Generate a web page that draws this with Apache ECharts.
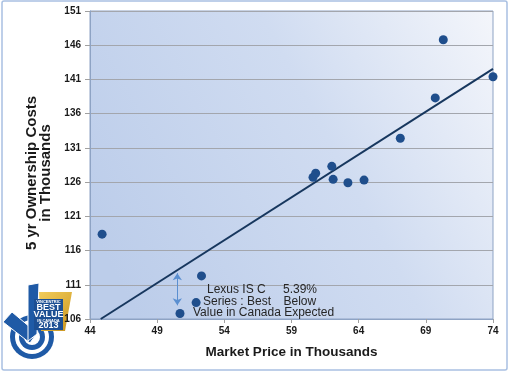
<!DOCTYPE html>
<html><head><meta charset="utf-8">
<script src="https://cdn.jsdelivr.net/npm/echarts@6/dist/echarts.min.js"></script>
<style>html,body{margin:0;padding:0;background:#fff}#c{width:512px;height:372px}</style>
</head><body><div id="c"></div>
<script>
// Market price (thousands) and 5-yr ownership cost (thousands) per vehicle
const marketPrice = [44.9, 52.3, 51.9, 50.7, 60.6, 60.8, 62.0, 62.1, 63.2, 64.4, 67.1, 69.7, 70.3, 74.0];
const ownershipCost = [118.4, 112.3, 108.4, 106.8, 126.7, 127.3, 128.3, 126.4, 125.9, 126.3, 132.4, 138.3, 146.8, 141.4];
// Trend line endpoints
const trendX = [44.8, 74];
const trendY = [106, 142.55];
// Gap arrow for Lexus IS C (x, yTop, yBottom)
const arrowX = 50.5;
const arrowY = [112.7, 108.0];
// Axis ticks
const xTicks = [44, 49, 54, 59, 64, 69, 74];
const yTicks = [106, 111, 116, 121, 126, 131, 136, 141, 146, 151];
const xTitle = 'Market Price in Thousands';
const yTitle = '5 yr Ownership Costs\nin Thousands';
const noteLines = [['Lexus IS C', '5.39%'], ['Series : Best', 'Below'], ['Value in Canada Expected']];

const chart = echarts.init(document.getElementById('c'), null, {renderer: 'canvas'});
const font = 'Liberation Sans, Arial, sans-serif';
const tickLab = {fontFamily: font, fontWeight: 'bold', fontSize: 10, color: '#1a1a1a'};
const logoBlue = '#1f5aa6';

chart.setOption({
  animation: false,
  backgroundColor: '#fff',
  grid: {
    left: 90, top: 11, right: 19, bottom: 53, show: true,
    borderColor: '#8ea3c4', borderWidth: 1,
    backgroundColor: new echarts.graphic.LinearGradient(0, 0.7, 1, 0, [
      {offset: 0, color: '#bccdea'}, {offset: 0.55, color: '#d0dcf1'}, {offset: 1, color: '#f4f6fb'}
    ])
  },
  xAxis: {
    type: 'value', min: xTicks[0], max: xTicks[xTicks.length - 1],
    name: xTitle, nameLocation: 'middle', nameGap: 26,
    nameTextStyle: {fontFamily: font, fontWeight: 'bold', fontSize: 13.5, color: '#1a1a1a'},
    axisLine: {show: true, lineStyle: {color: '#8ea3c4'}},
    axisTick: {show: true, length: 4, customValues: xTicks, lineStyle: {color: '#a0a0a0'}},
    axisLabel: Object.assign({customValues: xTicks, margin: 7}, tickLab),
    splitLine: {show: false}
  },
  yAxis: {
    type: 'value', min: yTicks[0], max: yTicks[yTicks.length - 1],
    axisLine: {show: true, lineStyle: {color: '#8ea3c4'}},
    axisTick: {show: true, length: 5, customValues: yTicks, lineStyle: {color: '#a0a0a0'}},
    axisLabel: Object.assign({customValues: yTicks, margin: 9}, tickLab),
    splitLine: {show: true, lineStyle: {color: '#a3a6ad', width: 1}}
  },
  series: [
    {
      type: 'line', data: trendX.map((x, i) => [x, trendY[i]]),
      symbol: 'none', lineStyle: {color: '#17375e', width: 2}, z: 2,
      markLine: {
        silent: true, symbol: ['arrow', 'arrow'], symbolSize: [7, 7],
        lineStyle: {color: '#5b8fd0', width: 1, type: 'solid'}, label: {show: false},
        data: [[{coord: [arrowX, arrowY[0]]}, {coord: [arrowX, arrowY[1]]}]]
      }
    },
    {
      type: 'scatter', data: marketPrice.map((x, i) => [x, ownershipCost[i]]),
      symbolSize: 9, clip: false, itemStyle: {color: '#1f4e8c', opacity: 1}, z: 3
    }
  ],
  graphic: [
    {type: 'rect', shape: {x: 2, y: 1, width: 505, height: 369, r: 2}, style: {fill: 'none', stroke: '#a9c0e2', lineWidth: 1.5}, z: 0},
    {type: 'text', x: 38.5, y: 173, rotation: Math.PI / 2,
      style: {text: yTitle, font: 'bold 15px ' + font, fill: '#1a1a1a', textAlign: 'center', textVerticalAlign: 'middle', lineHeight: 14}},
    {type: 'text', x: 207, y: 289.5, style: {text: noteLines[0][0], font: '12px ' + font, fill: '#262626', textVerticalAlign: 'middle'}, z: 10},
    {type: 'text', x: 283, y: 289.5, style: {text: noteLines[0][1], font: '12px ' + font, fill: '#262626', textVerticalAlign: 'middle'}, z: 10},
    {type: 'text', x: 203, y: 301.5, style: {text: noteLines[1][0], font: '12px ' + font, fill: '#262626', textVerticalAlign: 'middle'}, z: 10},
    {type: 'text', x: 283.5, y: 301.5, style: {text: noteLines[1][1], font: '12px ' + font, fill: '#262626', textVerticalAlign: 'middle'}, z: 10},
    {type: 'text', x: 193, y: 313, style: {text: noteLines[2][0], font: '12px ' + font, fill: '#262626', textVerticalAlign: 'middle'}, z: 10},
    // logo
    {type: 'group', z: 20, children: [
      {type: 'circle', shape: {cx: 32, cy: 337, r: 22}, style: {fill: logoBlue}},
      {type: 'circle', shape: {cx: 32, cy: 337, r: 17}, style: {fill: '#fff'}},
      {type: 'circle', shape: {cx: 32, cy: 337, r: 13}, style: {fill: logoBlue}},
      {type: 'circle', shape: {cx: 32, cy: 337, r: 8}, style: {fill: '#fff'}},
      {type: 'polygon', shape: {points: [[3, 322], [12, 312], [37, 333], [30, 343]]}, style: {fill: logoBlue, stroke: '#fff', lineWidth: 1}},
      {type: 'polygon', shape: {points: [[28, 285], [39, 283], [37, 334], [28, 341]]}, style: {fill: logoBlue, stroke: '#fff', lineWidth: 1}},
      {type: 'polygon', shape: {points: [[39, 292], [72, 292], [65, 331], [41, 331]]},
        style: {fill: new echarts.graphic.LinearGradient(0, 0, 1, 1, [{offset: 0, color: '#f2cc5a'}, {offset: 1, color: '#c9941f'}])}},
      {type: 'rect', shape: {x: 34, y: 299, width: 29, height: 31}, style: {fill: '#1d4f93'}},
      {type: 'text', x: 48.5, y: 302, style: {text: 'VINCENTRIC', font: 'bold 4px ' + font, fill: '#fff', textAlign: 'center', textVerticalAlign: 'middle'}},
      {type: 'text', x: 48.5, y: 308, style: {text: 'BEST', font: 'bold 9px ' + font, fill: '#fff', textAlign: 'center', textVerticalAlign: 'middle'}},
      {type: 'text', x: 48.5, y: 315, style: {text: 'VALUE', font: 'bold 9px ' + font, fill: '#fff', textAlign: 'center', textVerticalAlign: 'middle'}},
      {type: 'text', x: 48.5, y: 320.5, style: {text: 'IN CANADA', font: 'bold 4px ' + font, fill: '#fff', textAlign: 'center', textVerticalAlign: 'middle'}},
      {type: 'text', x: 48.5, y: 326, style: {text: '2013', font: 'bold 9px ' + font, fill: '#fff', textAlign: 'center', textVerticalAlign: 'middle'}}
    ]}
  ]
});
</script></body></html>
